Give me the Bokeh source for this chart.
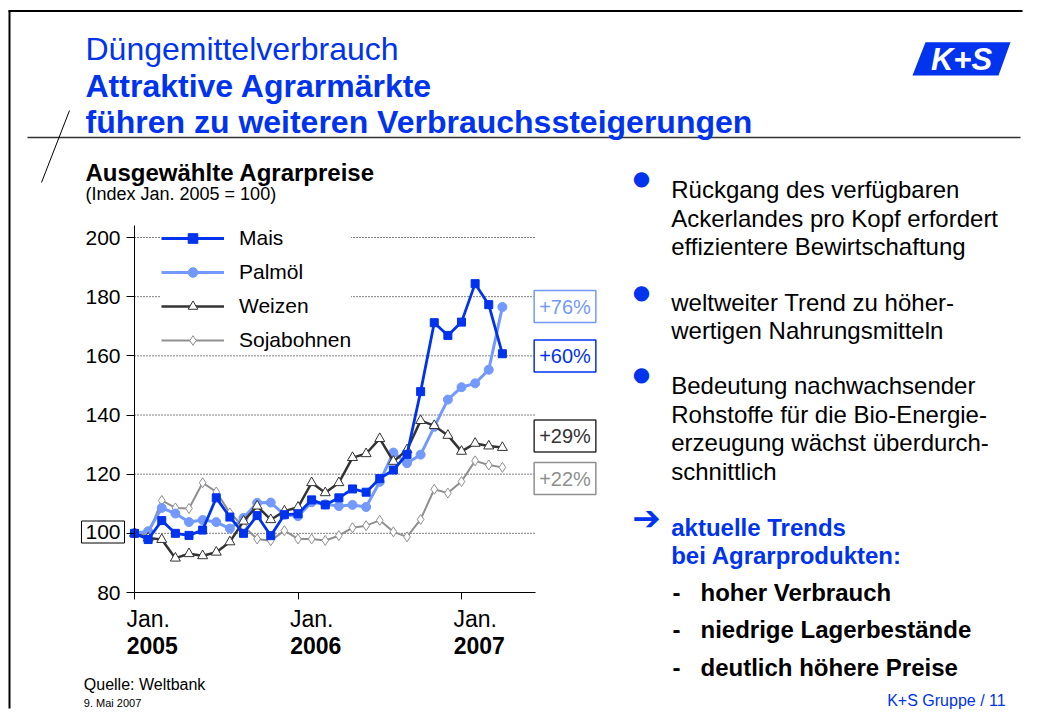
from bokeh.plotting import figure
from bokeh.models import (Range1d, FixedTicker, LinearAxis, Label, Legend, LegendItem,
                          PolyAnnotation)
from bokeh.embed import file_html
from bokeh.resources import INLINE

# ---------------- data ----------------
series_names = ["Mais", "Palmöl", "Weizen", "Sojabohnen"]
mais = [100, 97.9, 104.3, 100, 99.3, 101.1, 112, 105.5, 100, 106, 99.2, 106.3, 106.6, 111.3,
        109.6, 112, 115, 113.9, 118.5, 121.4, 126.7, 147.9, 171.2, 166.9, 171.4, 184.4, 177.3, 160.7]
palmoel = [100, 100.7, 108.6, 106.7, 103.8, 104.5, 103.8, 101.6, 105.2, 110.3, 110.4, 106.3, 105.8, 110.5,
           109.8, 109.2, 109.6, 108.9, 117.4, 127.3, 123.7, 126.6, 136.0, 145.2, 149.4, 150.7, 155.3, 176.5]
weizen = [100, 98.4, 97.9, 91.6, 93.1, 92.4, 93.6, 97.1, 104.1, 109.2, 104.6, 107.5, 108.8, 117.1,
          113.7, 117.1, 125.6, 126.9, 132.0, 124.3, 128.2, 138.1, 136.4, 133.1, 127.7, 130.4, 129.5, 129.0]
soja = [100, 99.5, 111.1, 108.6, 108.4, 117.1, 114.0, 106.9, 102.4, 98.1, 97.5, 100.9, 98.1, 98.1,
        97.6, 99.2, 101.9, 102.6, 104.4, 100.5, 98.8, 104.7, 114.9, 113.6, 117.5, 124.5, 123.1, 122.3]
months = list(range(len(mais)))            # months since Jan. 2005
year_tick_months = [0, 12, 24]
year_labels = ["2005", "2006", "2007"]
month_label = "Jan."
y_ticks = [80, 100, 120, 140, 160, 180, 200]
grid_ticks = [100, 120, 140, 160, 180, 200]
change_labels = ["+76%", "+60%", "+29%", "+22%"]

# ---------------- styles / geometry ----------------
BLUE = "#0033EE"
LIGHT = "#7399FF"
DARK = "#333333"
GREY = "#8F8F8F"
FONT = "Liberation Sans"

W, H = 1023, 709
CL, CR, CT, CB = 134, 535, 225, 592      # chart area in page pixels
PX_MONTH = 13.625
PX_UNIT = 355 / 120.0
Y0 = 80
x_end = (CR - CL) / PX_MONTH
y_top = Y0 + (CB - CT) / PX_UNIT

p = figure(width=W, height=H, output_backend="svg", toolbar_location=None,
           x_axis_type=None, y_axis_type=None,
           x_range=Range1d(-CL / PX_MONTH, (W - CL) / PX_MONTH),
           y_range=Range1d(Y0 - (H - CB) / PX_UNIT, Y0 + CB / PX_UNIT),
           min_border=0, outline_line_color=None,
           background_fill_color="white", border_fill_color="white")

# gridlines (chart area only)
p.segment(x0=[months[0]] * len(grid_ticks), x1=[x_end] * len(grid_ticks),
          y0=grid_ticks, y1=grid_ticks, line_color="black", line_dash="1 2", line_width=1)

# y axis
ya = LinearAxis(fixed_location=0, bounds=(Y0, y_top), ticker=FixedTicker(ticks=y_ticks),
                major_label_overrides={100: ""}, major_tick_out=8, major_tick_in=0,
                minor_tick_out=0, minor_tick_in=0, major_label_standoff=6,
                major_label_text_font=FONT, major_label_text_font_size="21px",
                major_label_text_color="black", axis_line_color="black")
p.add_layout(ya, "left")

# x axis (line + tick marks)
xa = LinearAxis(fixed_location=Y0, bounds=(0, x_end), ticker=FixedTicker(ticks=year_tick_months),
                major_label_overrides={m: "" for m in year_tick_months},
                major_tick_out=7, major_tick_in=0, minor_tick_out=0, minor_tick_in=0,
                axis_line_color="black")
p.add_layout(xa, "below")

month_axis = LinearAxis(fixed_location=Y0, ticker=FixedTicker(ticks=[m + 1.0 for m in year_tick_months]),
                        major_label_overrides={m + 1.0: month_label for m in year_tick_months},
                        axis_line_color=None, major_tick_line_color=None, minor_tick_line_color=None,
                        major_tick_out=0, major_label_standoff=13, major_label_text_font=FONT,
                        major_label_text_font_size="23px", major_label_text_color="black")
p.add_layout(month_axis, "below")
year_axis = LinearAxis(fixed_location=Y0, ticker=FixedTicker(ticks=[m + 1.3 for m in year_tick_months]),
                       major_label_overrides={m + 1.3: y for m, y in zip(year_tick_months, year_labels)},
                       axis_line_color=None, major_tick_line_color=None, minor_tick_line_color=None,
                       major_tick_out=0, major_label_standoff=44, major_label_text_font=FONT,
                       major_label_text_font_style="bold",
                       major_label_text_font_size="23px", major_label_text_color="black")
p.add_layout(year_axis, "below")

# series
ls = p.line(months, soja, line_color=GREY, line_width=2)
ss = p.scatter(months, soja, marker="diamond", size=10, fill_color="white", line_color=GREY, line_width=1)
lp = p.line(months, palmoel, line_color=LIGHT, line_width=3)
sp = p.scatter(months, palmoel, marker="circle", size=9, fill_color=LIGHT, line_color=LIGHT)
lw = p.line(months, weizen, line_color=DARK, line_width=2.5)
sw = p.scatter(months, weizen, marker="triangle", size=10, fill_color="white", line_color=DARK, line_width=1)
lm = p.line(months, mais, line_color=BLUE, line_width=2.8)
sm = p.scatter(months, mais, marker="square", size=8, fill_color=BLUE, line_color=BLUE)

LEG_PAD, ROW, SPACE = 3, 24, 10
leg_bottom = 337 + ROW / 2 + LEG_PAD
legend = Legend(items=[LegendItem(label=series_names[0], renderers=[lm, sm]),
                       LegendItem(label=series_names[1], renderers=[lp, sp]),
                       LegendItem(label=series_names[2], renderers=[lw, sw]),
                       LegendItem(label=series_names[3], renderers=[ls, ss])],
                location=(164 - LEG_PAD, H - leg_bottom), margin=0, padding=LEG_PAD,
                spacing=SPACE, glyph_width=63, glyph_height=ROW, label_height=ROW, label_standoff=15,
                label_text_font=FONT, label_text_font_size="21px", label_text_color="black",
                border_line_color=None, background_fill_color="white", background_fill_alpha=1)
p.add_layout(legend)


def text(t, px, py, size, color="black", style="normal", align="left", baseline="alphabetic",
         font=FONT, **kw):
    p.add_layout(Label(x=px, y=H - py, x_units="screen", y_units="screen", text=t,
                       text_font=font, text_font_size=f"{size}px", text_color=color,
                       text_font_style=style, text_align=align, text_baseline=baseline, **kw))


def rule(xs, ys, color="black", width=1):
    p.add_layout(PolyAnnotation(xs=list(xs), ys=[H - v for v in ys], xs_units="screen", ys_units="screen",
                                fill_alpha=0, line_color=color, line_alpha=1, line_width=width))


# change boxes
box_colors = [LIGHT, BLUE, DARK, GREY]
box_y = [306, 355.5, 435.5, 478]
for t, c, yy in zip(change_labels, box_colors, box_y):
    text(t, 564.5, yy, 20, color=c, align="center", baseline="middle",
         border_line_color=c, border_line_width=1.5, background_fill_color="white", padding=5)

# boxed 100
text("100", 102.5, 531.5, 21, align="center", baseline="middle",
     border_line_color="black", border_line_width=1, background_fill_color="white", padding=4)

# slide frame lines
rule([8, W - 1], [10.5, 10.5], width=2)
rule([9, 9], [10, H - 1], width=2)
rule([27, 1020], [137, 137], color=DARK, width=1.5)
rule([69, 41], [110, 182], width=1)

# titles
text("Düngemittelverbrauch", 85, 48.3, 32, color=BLUE)
text("Attraktive Agrarmärkte", 85, 85, 32, color=BLUE, style="bold")
text("führen zu weiteren Verbrauchssteigerungen", 85, 121.7, 32, color=BLUE, style="bold")

# logo
p.add_layout(PolyAnnotation(xs=[925, 1010, 998, 912], ys=[H - 41.7, H - 41.7, H - 75, H - 75],
                            xs_units="screen", ys_units="screen",
                            fill_color=BLUE, fill_alpha=1, line_color=None))
text("K+S", 961, 59, 31, color="white", style="bold italic", align="center", baseline="middle")

# chart headings
text("Ausgewählte Agrarpreise", 85, 171.7, 24, style="bold")
text("(Index Jan. 2005 = 100)", 85, 193.5, 18)

# right text
bullets = [(181, ["Rückgang des verfügbaren", "Ackerlandes pro Kopf erfordert",
                  "effizientere Bewirtschaftung"], 189.3),
           (295, ["weltweiter Trend zu höher-", "wertigen Nahrungsmitteln"], 301.7),
           (377.3, ["Bedeutung nachwachsender", "Rohstoffe für die Bio-Energie-",
                    "erzeugung wächst überdurch-", "schnittlich"], 385)]
for dot_y, lines, base in bullets:
    text("●", 641, dot_y - 4, 20, color=BLUE, align="center", baseline="middle", font="DejaVu Sans")
    for i, ln in enumerate(lines):
        text(ln, 670.7, base + i * 28.5, 24)

text("➔", 646, 517, 34, color=BLUE, style="bold", align="center", baseline="middle", font="DejaVu Sans")
text("aktuelle Trends", 670.7, 526.7, 24, color=BLUE, style="bold")
text("bei Agrarprodukten:", 670.7, 555, 24, color=BLUE, style="bold")
for i, ln in enumerate(["hoher Verbrauch", "niedrige Lagerbestände", "deutlich höhere Preise"]):
    yy = 591.7 + i * 37.5
    text("-", 672, yy, 24, style="bold")
    text(ln, 700, yy, 24, style="bold")

# footer (kept inside the canvas)
text("Quelle: Weltbank", 83.3, 684, 16)
text("9. Mai 2007", 83.3, 702, 11)
text("K+S Gruppe / 11", 886.7, 700, 16, color=BLUE)

open("out.html", "w").write(file_html(p, INLINE))
